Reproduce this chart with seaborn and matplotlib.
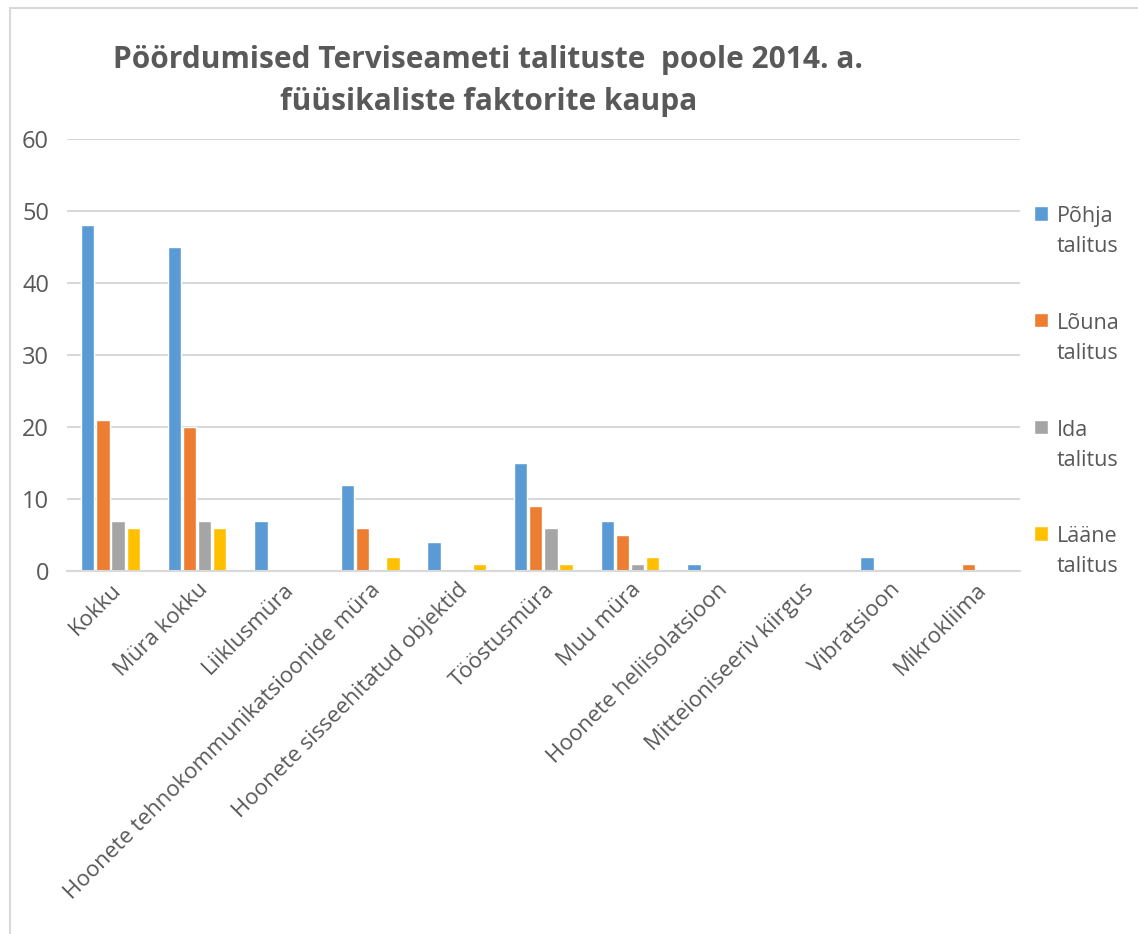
import pandas as pd
import matplotlib
matplotlib.use("Agg")
import matplotlib.pyplot as plt
import seaborn as sns
from matplotlib.patches import Rectangle

# values
categories = [
    "Kokku", "Müra kokku", "Liiklusmüra",
    "Hoonete tehnokommunikatsioonide müra",
    "Hoonete sisseehitatud objektid", "Tööstusmüra",
    "Muu müra", "Hoonete heliisolatsioon", "Mitteioniseeriv kiirgus",
    "Vibratsioon", "Mikrokliima",
]
series = ["Põhja\ntalitus", "Lõuna\ntalitus", "Ida\ntalitus", "Lääne\ntalitus"]
pohja = [48, 45, 7, 12, 4, 15, 7, 1, 0, 2, 0]
louna = [21, 20, 0, 6, 0, 9, 5, 0, 0, 0, 1]
ida = [7, 7, 0, 0, 0, 6, 1, 0, 0, 0, 0]
laane = [6, 6, 0, 2, 1, 1, 2, 0, 0, 0, 0]
colors = ["#5B9BD5", "#ED7D31", "#A5A5A5", "#FFC000"]

df = pd.DataFrame({"faktor": categories, series[0]: pohja, series[1]: louna,
                   series[2]: ida, series[3]: laane})
long_df = df.melt(id_vars="faktor", var_name="talitus", value_name="arv")

sns.set_theme(style="white")
plt.rcParams["font.family"] = ["Open Sans", "DejaVu Sans"]

fig = plt.figure(figsize=(11.38, 9.34), dpi=100)
ax = fig.add_axes([0.059, 0.3887, 0.837, 0.4625])

sns.barplot(data=long_df, x="faktor", y="arv", hue="talitus",
            palette=colors, saturation=1, width=0.7, gap=0.12, ax=ax,
            legend=True)

ax.set_ylim(0, 60)
ax.set_yticks(range(0, 61, 10))
ax.set_xlim(-0.5, len(categories) - 0.5)
ax.grid(axis="y", color="#D9D9D9", linewidth=1.5)
ax.set_axisbelow(True)
for side in ["top", "right", "left"]:
    ax.spines[side].set_visible(False)
ax.spines["bottom"].set_color("#D9D9D9")
ax.spines["bottom"].set_linewidth(1.5)
ax.set_xlabel("")
ax.set_ylabel("")
ax.tick_params(axis="both", length=0, colors="#595959")
ax.tick_params(axis="y", labelsize=17, pad=13)
ax.tick_params(axis="x", pad=6)
ax.set_xticks(range(len(categories)))
ax.set_xticklabels(categories, rotation=45, ha="right", rotation_mode="anchor",
                   fontsize=16, color="#595959")

handles, labels = ax.get_legend_handles_labels()
ax.legend_.remove()
leg = fig.legend(handles, labels, loc="upper left", bbox_to_anchor=(0.892, 0.8),
                 frameon=False, fontsize=15.5, labelcolor="#595959",
                 handlelength=0.65, handleheight=0.65, handletextpad=0.4,
                 labelspacing=2.6)
for t in leg.get_texts():
    t.set_linespacing(1.55)
# put the colour square next to the first line of each label
try:
    for col in leg._legend_handle_box.get_children():
        for row in col.get_children():
            row.align = "top"
except AttributeError:
    pass

fig.text(0.429, 0.952, "Pöördumised Terviseameti talituste  poole 2014. a.\nfüüsikaliste faktorite kaupa",
         ha="center", va="top", fontsize=21.5, fontweight="bold",
         color="#595959", linespacing=1.55, family=["Open Sans", "DejaVu Sans"])

fig.patches.append(Rectangle((10 / 1138, -0.1), 1.2, 1 - 8 / 934 + 0.1,
                             transform=fig.transFigure, fill=False,
                             edgecolor="#D9D9D9", linewidth=1.5))

fig.savefig("out.png", dpi=100)
